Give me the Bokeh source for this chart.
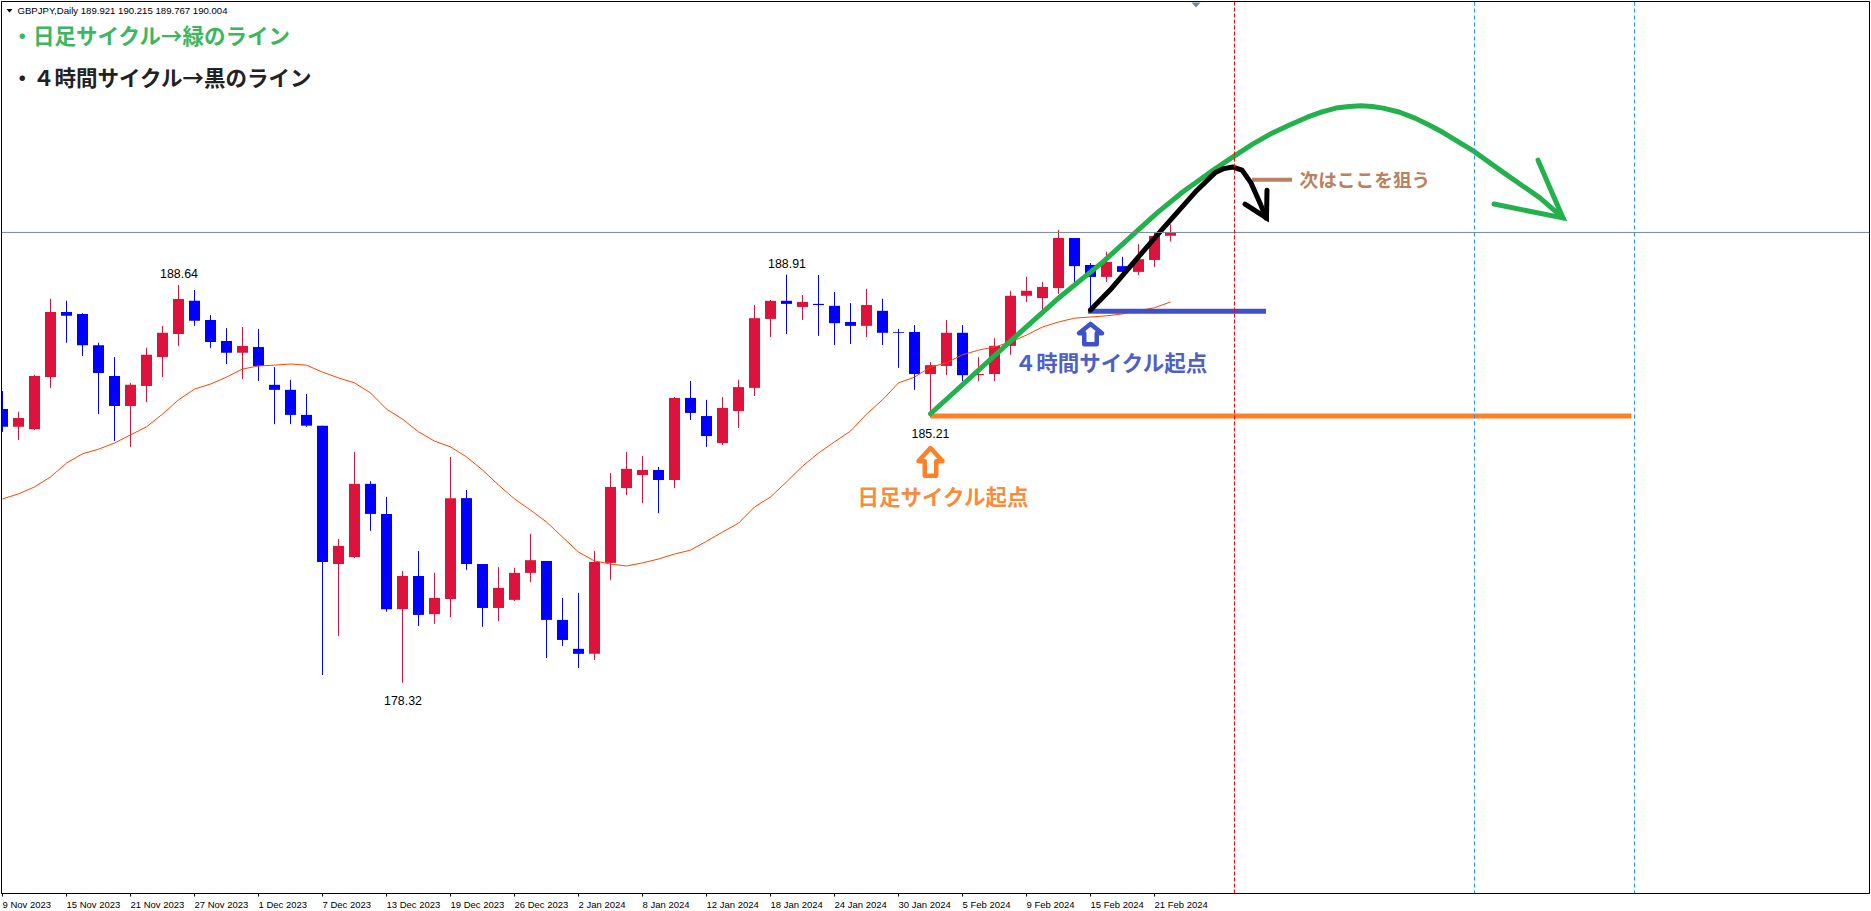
from bokeh.plotting import figure
from bokeh.models import Range1d, FixedTicker, AllLabels, Span
from bokeh.core.properties import value
from bokeh.embed import file_html
from bokeh.resources import INLINE

opens = [185.42,184.96,184.90,186.25,187.94,187.89,187.08,186.28,185.50,186.02,186.77,187.37,188.23,187.73,187.19,186.88,187.03,186.05,185.92,185.27,
         184.99,181.40,181.58,183.48,182.70,180.23,181.09,180.10,180.49,183.11,181.40,180.26,180.47,181.17,181.48,179.95,179.20,179.07,181.43,183.37,
         183.71,183.84,183.58,185.71,185.24,184.54,185.37,185.97,187.76,188.23,188.07,188.15,188.10,187.68,187.58,187.97,187.42,187.42,186.33,186.54,
         187.40,186.30,186.33,187.06,188.36,188.30,188.56,189.86,189.16,188.85,189.13,188.98,189.29,189.921]
highs = [185.89,185.35,186.31,188.28,188.23,187.91,187.14,186.77,186.10,187.01,187.58,188.64,188.51,187.86,187.52,187.55,187.50,186.51,186.18,185.81,
         184.99,182.05,184.31,183.55,183.14,181.22,181.74,181.17,184.18,183.32,181.40,181.32,181.30,182.18,181.48,180.52,180.65,181.74,183.76,184.31,
         184.20,183.92,185.73,186.15,185.66,185.73,186.18,188.12,188.25,188.91,188.38,188.90,188.46,188.17,188.54,188.28,187.50,187.60,186.64,187.73,
         187.60,186.77,187.26,188.49,188.85,188.72,190.07,189.86,189.21,189.50,189.37,189.70,190.01,190.215]
lows = [184.83,184.62,184.88,185.97,187.14,186.80,185.29,184.59,184.44,185.60,186.25,187.06,187.58,187.01,186.59,186.20,186.15,185.03,185.03,184.96,
        178.52,179.53,181.56,182.26,180.16,178.32,179.79,179.85,180.02,181.25,179.77,179.92,180.44,180.93,178.96,179.27,178.70,178.91,180.99,183.19,
        182.98,182.72,183.37,185.14,184.44,184.49,184.93,185.76,187.29,187.37,187.73,187.32,187.08,187.11,187.29,187.08,186.49,185.92,185.21,186.30,
        186.15,186.15,186.15,186.83,188.20,187.86,188.41,188.69,187.99,188.72,188.85,188.90,189.11,189.767]
closes = [184.96,185.19,186.28,187.94,187.84,187.08,186.36,185.50,186.05,186.83,187.40,188.28,187.71,187.16,186.88,187.06,186.54,185.92,185.27,184.99,
          181.45,181.87,183.48,182.70,180.23,181.09,180.08,180.52,183.11,181.40,180.26,180.78,181.17,181.50,179.95,179.43,179.07,181.45,183.40,183.87,
          183.84,183.58,185.71,185.32,184.72,185.45,185.99,187.78,188.23,188.15,188.20,188.12,187.65,187.58,188.12,187.40,187.40,186.33,186.56,187.40,
          186.30,186.33,187.06,188.36,188.49,188.59,189.86,189.13,188.85,189.24,188.98,189.31,189.91,190.004]
moving_average = [183.09,183.22,183.40,183.66,184.02,184.26,184.38,184.54,184.75,184.96,185.29,185.66,185.94,186.07,186.25,186.46,186.54,186.56,186.59,186.56,
                  186.38,186.23,186.10,185.84,185.42,185.16,184.83,184.59,184.44,184.18,183.84,183.45,183.09,182.80,182.49,182.10,181.71,181.48,181.40,181.35,
                  181.43,181.53,181.66,181.76,181.99,182.23,182.46,182.88,183.14,183.53,183.94,184.28,184.57,184.85,185.29,185.66,186.10,186.25,186.51,186.62,
                  186.83,186.95,187.03,187.16,187.34,187.55,187.68,187.78,187.81,187.84,187.89,187.97,188.05,188.20]
tick_labels = ["9 Nov 2023","15 Nov 2023","21 Nov 2023","27 Nov 2023","1 Dec 2023","7 Dec 2023","13 Dec 2023","19 Dec 2023","26 Dec 2023","2 Jan 2024",
               "8 Jan 2024","12 Jan 2024","18 Jan 2024","24 Jan 2024","30 Jan 2024","5 Feb 2024","9 Feb 2024","15 Feb 2024","21 Feb 2024"]
tick_bars = [0,4,8,12,16,20,24,28,32,36,40,44,48,52,56,60,64,68,72]
last_price = 190.004
cycle_bar_red = 77
cycle_bar_blue = [92, 102]

green_x = [58.0,63.28,66.09,68.78,72.16,73.78,75.53,77.0,78.16,79.34,80.47,81.59,82.47,83.34,84.16,84.91,85.6,86.28,87.28,88.28,89.16,90.07,92.0,93.84,96.09,97.53]
green_y = [185.30,187.29,188.33,189.24,190.51,191.06,191.58,191.99,192.30,192.58,192.80,193.00,193.13,193.23,193.27,193.29,193.27,193.23,193.13,192.97,192.79,192.59,192.10,191.55,190.90,190.38]
green_head_x = [93.22,97.53,95.97]
green_head_y = [190.74,190.38,191.88]
black_x = [68.0,69.22,72.22,73.09,74.66,75.78,76.34,76.9,77.47,78.03,78.59,78.97]
black_y = [187.99,188.51,189.96,190.37,191.10,191.55,191.66,191.70,191.62,191.29,190.77,190.38]
black_head_x = [77.66,79.0,79.03]
black_head_y = [190.74,190.38,191.10]
blue_level_x = [67.84,78.97]
blue_level_y = [187.96,187.96]
orange_level_x = [58.0,101.8]
orange_level_y = [185.24,185.24]
brown_x = [78.1,80.6]
brown_y = [191.37,191.37]
blue_arrow_x = [68.0,67.28,67.61,67.61,68.39,68.39,68.72]
blue_arrow_y = [187.63,187.39,187.39,187.10,187.10,187.39,187.39]
orange_arrow_x = [58.0,57.25,57.64,57.64,58.36,58.36,58.75]
orange_arrow_y = [184.41,184.07,184.07,183.69,183.69,184.07,184.07]

PX_PER_BAR = 16.0
BAR0_PX = 2.0
PRICE_AT_0 = 196.035
PRICE_PER_PX = 0.025947
def bx(px): return (px - BAR0_PX) / PX_PER_BAR
def py(y): return PRICE_AT_0 - PRICE_PER_PX * (y + 0.5)

p = figure(frame_width=1868, frame_height=892, output_backend="svg", toolbar_location=None,
           x_range=Range1d(bx(1), bx(1869)), y_range=Range1d(py(893), py(1)),
           min_border_left=1, min_border_right=2, min_border_top=1, min_border_bottom=18,
           y_axis_location=None, background_fill_color="white", border_fill_color="white",
           outline_line_color="black", outline_line_width=1)
p.margin = (0, 0, -10, 0)
p.grid.visible = False

ax = p.xaxis[0]
ax.ticker = FixedTicker(ticks=tick_bars)
ax.major_label_overrides = {b: t for b, t in zip(tick_bars, tick_labels)}
ax.major_label_policy = AllLabels()
ax.major_label_orientation = -0.00001
ax.major_label_text_font = "Liberation Sans"
ax.major_label_text_font_size = "9.5px"
ax.major_label_text_color = "black"
ax.major_label_standoff = 8
ax.major_tick_in = 0
ax.major_tick_out = 3
ax.minor_tick_out = 0
ax.minor_tick_in = 0
ax.axis_line_color = "black"
ax.major_tick_line_color = "black"

RED, BLUE = "#DC143C", "#0000FF"
xs = list(range(len(opens)))
cols = [RED if c >= o else BLUE for o, c in zip(opens, closes)]
p.segment(xs, highs, xs, lows, line_color=cols, line_width=1)
p.vbar(xs, width=11/PX_PER_BAR, bottom=[min(o, c) for o, c in zip(opens, closes)],
       top=[max(o, c) for o, c in zip(opens, closes)], fill_color=cols, line_color=None)
p.line(xs, moving_average, line_color="#FF4500", line_width=1)

p.add_layout(Span(location=last_price, dimension="width", line_color="#778899", line_width=1))
p.add_layout(Span(location=cycle_bar_red, dimension="height", line_color="#FF0000", line_width=1, line_dash="4 2"))
for b in cycle_bar_blue:
    p.add_layout(Span(location=b, dimension="height", line_color="#1E90FF", line_width=1, line_dash="4 3"))

# hand-drawn overlays
p.line(orange_level_x, orange_level_y, line_color="#FF8026", line_width=5)
p.line(blue_level_x, blue_level_y, line_color="#3F51C8", line_width=5)
p.line(brown_x, brown_y, line_color="#B98160", line_width=4)
p.line(green_x, green_y, line_color="#22B14C", line_width=5, line_join="round", line_cap="round")
p.line(green_head_x, green_head_y, line_color="#22B14C", line_width=5, line_join="miter", line_cap="round")
p.line(black_x, black_y, line_color="black", line_width=5, line_join="round", line_cap="round")
p.line(black_head_x, black_head_y, line_color="black", line_width=5, line_join="miter", line_cap="round")
p.patch(blue_arrow_x, blue_arrow_y, fill_color="white", line_color="#3F51C8", line_width=4.5, line_join="round")
p.patch(orange_arrow_x, orange_arrow_y, fill_color="white", line_color="#FF8026", line_width=4.5, line_join="round")

# price marker at the top edge
p.patch([bx(1191), bx(1200), bx(1195.5)], [py(2), py(2), py(7)], fill_color="#778899", line_color=None)
# header triangle
p.patch([bx(6), bx(12), bx(9)], [py(8.5), py(8.5), py(12)], fill_color="black", line_color=None)

def label(px, y, txt, font, size, color, style="normal", align="left"):
    p.text([bx(px)], [py(y)], text=[txt], text_font=value(font), text_font_size=size, text_color=color,
           text_font_style=style, text_align=align, text_baseline="middle")

JP = "Noto Sans CJK JP"
label(17, 10, "GBPJPY,Daily  189.921 190.215 189.767 190.004", "Liberation Sans", "9.6px", "black")
label(11, 34, "・日足サイクル→緑のライン", JP, "21.5px", "#3CB660", "bold")
label(11, 76, "・４時間サイクル→黒のライン", JP, "21.5px", "#222222", "bold")
label(943, 495, "日足サイクル起点", JP, "21.5px", "#F98B3C", "bold", "center")
label(1111, 361, "４時間サイクル起点", JP, "21.5px", "#4E5FC8", "bold", "center")
label(1299, 177.5, "次はここを狙う", JP, "18.7px", "#B98160", "bold")
label(178.5, 273, "188.64", "Liberation Sans", "12.4px", "black", align="center")
label(786.5, 263, "188.91", "Liberation Sans", "12.4px", "black", align="center")
label(402.5, 700, "178.32", "Liberation Sans", "12.4px", "black", align="center")
label(930, 433, "185.21", "Liberation Sans", "12.4px", "black", align="center")

open("out.html", "w").write(file_html(p, INLINE))
